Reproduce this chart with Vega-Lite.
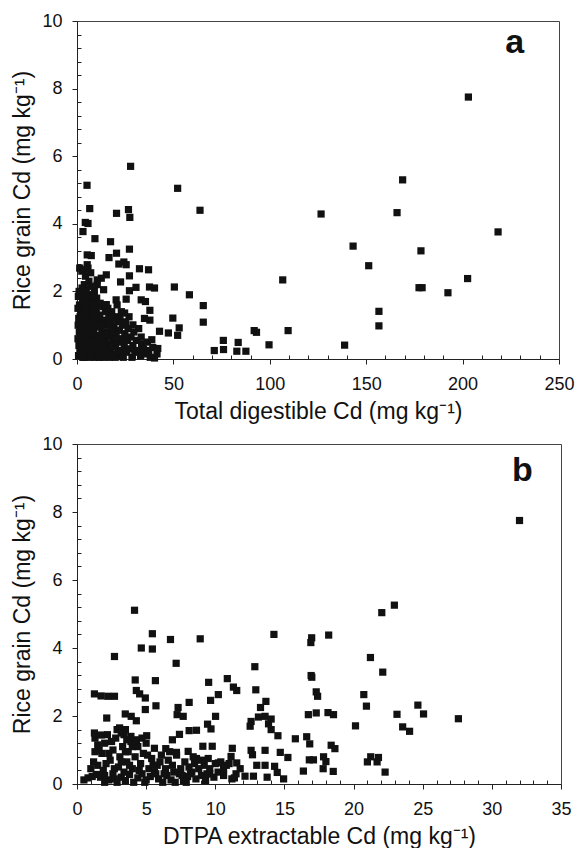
{
"$schema": "https://vega.github.io/schema/vega-lite/v6.json",
"background": "white",
"padding": {"top": 11, "left": 11, "right": 5, "bottom": 5},
"spacing": 10,
"config": {
  "font": "Liberation Sans",
  "view": {"stroke": "#444", "strokeWidth": 1},
  "axis": {"grid": false, "domainColor": "#222", "tickColor": "#222", "labelColor": "#111", "titleColor": "#111", "labelFont": "Liberation Sans", "titleFont": "Liberation Sans", "labelFontSize": 18, "titleFontSize": 23, "titleFontWeight": "normal", "labelFlush": false, "labelOverlap": false, "labelBound": false}
},
"datasets": {
  "a": [
    {"x":0.8,"y":0.1},{"x":1,"y":0.4},{"x":1.2,"y":0.8},{"x":0.9,"y":1.2},{"x":1.3,"y":1.6},{"x":1.1,"y":2.0},{"x":1.5,"y":0.25},{"x":1.8,"y":0.6},{"x":2,"y":1.0},{"x":2.2,"y":1.4},{"x":2.1,"y":1.9},{"x":2.5,"y":2.6},
    {"x":3,"y":0.05},{"x":3.2,"y":0.35},{"x":3.4,"y":0.7},{"x":3.1,"y":1.1},{"x":3.6,"y":1.5},{"x":3.3,"y":1.8},{"x":3.8,"y":2.2},{"x":4,"y":0.2},{"x":4.2,"y":0.5},{"x":4.5,"y":0.9},{"x":4.3,"y":1.3},{"x":4.6,"y":1.7},{"x":4.8,"y":2.05},{"x":4.4,"y":2.45},
    {"x":5.2,"y":0.1},{"x":5.5,"y":0.45},{"x":5.8,"y":0.8},{"x":5.3,"y":1.2},{"x":5.6,"y":1.55},{"x":6,"y":1.9},{"x":6.2,"y":2.3},{"x":6.5,"y":0.05},{"x":6.8,"y":0.3},{"x":6.6,"y":0.65},{"x":7,"y":1.0},{"x":6.9,"y":1.4},{"x":7.2,"y":1.75},{"x":7.5,"y":2.15},{"x":7.1,"y":2.55},
    {"x":8,"y":0.15},{"x":8.2,"y":0.5},{"x":8.5,"y":0.85},{"x":8.3,"y":1.25},{"x":8.8,"y":1.6},{"x":9,"y":2.0},{"x":9.3,"y":0.05},{"x":9.5,"y":0.35},{"x":9.8,"y":0.7},{"x":9.6,"y":1.1},{"x":10,"y":1.45},{"x":10.2,"y":1.8},{"x":10.5,"y":2.2},
    {"x":11,"y":0.2},{"x":11.3,"y":0.55},{"x":11.5,"y":0.95},{"x":11.8,"y":1.3},{"x":12,"y":1.65},{"x":12.5,"y":0.1},{"x":12.8,"y":0.4},{"x":13,"y":0.8},{"x":13.2,"y":1.15},{"x":13.5,"y":1.55},{"x":13.8,"y":2.05},{"x":14,"y":0.25},{"x":14.3,"y":0.6},{"x":14.5,"y":1.0},{"x":14.8,"y":1.4},
    {"x":15.5,"y":0.1},{"x":15.8,"y":0.45},{"x":16.2,"y":0.8},{"x":16.5,"y":1.2},{"x":17,"y":0.3},{"x":17.3,"y":0.65},{"x":17.8,"y":1.05},{"x":18,"y":1.4},{"x":18.5,"y":0.15},{"x":18.8,"y":0.5},{"x":19.2,"y":0.9},{"x":19.5,"y":1.25},{"x":20,"y":0.35},{"x":20.3,"y":0.7},{"x":20.8,"y":1.6},{"x":21,"y":0.1},
    {"x":21.5,"y":0.5},{"x":22,"y":0.85},{"x":22.3,"y":1.2},{"x":22.8,"y":0.25},{"x":23.2,"y":0.6},{"x":23.5,"y":1.0},{"x":24,"y":0.05},{"x":24.5,"y":0.4},{"x":24.8,"y":0.75},{"x":25.2,"y":1.1},{"x":25.8,"y":0.2},{"x":26.2,"y":0.55},{"x":26.5,"y":0.9},{"x":27,"y":1.25},{"x":27.5,"y":0.3},{"x":28,"y":0.65},{"x":28.5,"y":0.05},{"x":29,"y":0.4},{"x":29.5,"y":0.8},{"x":30,"y":0.2},
    {"x":30.8,"y":0.55},{"x":31.5,"y":0.25},{"x":32,"y":0.9},{"x":33,"y":0.1},{"x":33.5,"y":0.45},{"x":34.5,"y":0.3},{"x":35,"y":1.2},{"x":35.8,"y":0.15},{"x":36.5,"y":0.5},{"x":37.2,"y":0.25},{"x":38,"y":0.05},{"x":41.5,"y":0.15},
    {"x":0.5,"y":0.6},{"x":0.6,"y":1.0},{"x":0.5,"y":1.5},{"x":0.7,"y":1.85},{"x":1.6,"y":1.25},{"x":1.9,"y":0.15},{"x":2.6,"y":0.5},{"x":2.7,"y":0.9},{"x":2.8,"y":1.3},{"x":2.9,"y":1.65},{"x":2.6,"y":2.1},{"x":3.7,"y":0.05},{"x":3.9,"y":0.95},{"x":4.1,"y":1.5},{"x":5.0,"y":0.65},{"x":5.1,"y":1.0},{"x":5.0,"y":1.4},{"x":5.4,"y":1.85},{"x":6.2,"y":0.25},{"x":6.1,"y":1.1},{"x":6.3,"y":1.65},{"x":7.4,"y":0.15},{"x":7.6,"y":0.55},{"x":7.8,"y":1.2},{"x":7.7,"y":1.6},{"x":8.6,"y":0.3},{"x":8.9,"y":1.05},{"x":8.6,"y":1.9},{"x":9.1,"y":1.35},{"x":10.3,"y":0.5},{"x":10.5,"y":0.95},{"x":10.7,"y":1.25},{"x":11.6,"y":0.05},{"x":12.2,"y":0.7},{"x":12.4,"y":1.0},{"x":13.6,"y":0.05},{"x":14.9,"y":0.75},{"x":16.0,"y":1.5},{"x":16.8,"y":0.05},{"x":18.2,"y":0.8},{"x":19.8,"y":0.05},{"x":21.8,"y":0.2},{"x":23.0,"y":1.4},
    {"x":27.8,"y":5.70},{"x":5.2,"y":5.14},{"x":52.2,"y":5.05},{"x":63.8,"y":4.40},{"x":6.6,"y":4.45},{"x":20.5,"y":4.31},{"x":26.7,"y":4.42},{"x":27.4,"y":4.19},{"x":5.7,"y":4.01},{"x":4.3,"y":4.04},{"x":3.1,"y":3.77},{"x":9.3,"y":3.56},{"x":17.4,"y":3.47},{"x":5.3,"y":3.08},{"x":7.4,"y":3.06},{"x":20.5,"y":3.13},{"x":16.6,"y":3.0},{"x":27.2,"y":3.25},{"x":24.3,"y":2.87},{"x":25.5,"y":2.79},{"x":32.4,"y":2.67},{"x":37.1,"y":2.64},{"x":1.4,"y":2.69},{"x":3.6,"y":2.64},{"x":5.3,"y":2.79},{"x":5.7,"y":2.69},{"x":15.2,"y":2.49},{"x":27.2,"y":2.46},{"x":21.7,"y":2.81},{"x":12.6,"y":2.39},{"x":10.5,"y":2.34},{"x":22.6,"y":2.28},
    {"x":106.7,"y":2.34},{"x":50.5,"y":2.13},{"x":37.6,"y":2.13},{"x":40.2,"y":2.10},{"x":58.3,"y":1.90},{"x":65.5,"y":1.58},{"x":65.5,"y":1.09},{"x":49.7,"y":1.21},{"x":53.0,"y":0.92},{"x":52.2,"y":0.70},{"x":47.4,"y":0.77},{"x":42.8,"y":0.82},{"x":75.9,"y":0.55},{"x":71.2,"y":0.25},{"x":76.0,"y":0.28},{"x":83.6,"y":0.49},{"x":82.9,"y":0.23},{"x":87.6,"y":0.23},{"x":91.9,"y":0.84},{"x":93.1,"y":0.79},{"x":99.6,"y":0.42},{"x":109.5,"y":0.84},
    {"x":33.3,"y":1.75},{"x":35.5,"y":1.70},{"x":37.8,"y":1.44},{"x":37.8,"y":1.15},{"x":33.3,"y":0.65},{"x":38.8,"y":0.57},{"x":39.3,"y":0.34},{"x":41.9,"y":0.31},{"x":40.2,"y":0.03},{"x":29.0,"y":1.01},{"x":25.5,"y":1.77},{"x":27.2,"y":2.02},{"x":30.6,"y":2.12},{"x":20.3,"y":1.75},{"x":15.2,"y":1.61},{"x":10.9,"y":1.61},{"x":24.7,"y":1.36},{"x":21.2,"y":1.11},{"x":17.6,"y":0.92},
    {"x":168.9,"y":5.30},{"x":126.6,"y":4.29},{"x":166.0,"y":4.33},{"x":218.4,"y":3.76},{"x":143.2,"y":3.34},{"x":178.4,"y":3.20},{"x":151.3,"y":2.76},{"x":202.6,"y":2.38},{"x":177.4,"y":2.11},{"x":179.0,"y":2.11},{"x":192.4,"y":1.96},{"x":156.6,"y":1.41},{"x":156.6,"y":0.98},{"x":138.8,"y":0.41},{"x":203,"y":7.75}
  ],
  "b": [
    {"x":0.5,"y":0.12},{"x":0.8,"y":0.18},{"x":1.1,"y":0.22},{"x":1.4,"y":0.28},{"x":1.7,"y":0.2},{"x":2.0,"y":0.25},{"x":2.3,"y":0.12},{"x":2.6,"y":0.3},{"x":2.9,"y":0.05},{"x":3.2,"y":0.2},{"x":3.5,"y":0.1},{"x":3.8,"y":0.28},{"x":4.1,"y":0.05},{"x":4.4,"y":0.18},{"x":4.7,"y":0.3},{"x":5.0,"y":0.12},{"x":5.3,"y":0.22},{"x":5.6,"y":0.35},{"x":5.9,"y":0.15},{"x":6.2,"y":0.05},{"x":6.5,"y":0.25},{"x":6.8,"y":0.12},{"x":7.1,"y":0.05},{"x":7.4,"y":0.3},{"x":7.7,"y":0.1},{"x":8.0,"y":0.22},{"x":8.3,"y":0.35},{"x":8.6,"y":0.15},{"x":9.0,"y":0.25},{"x":9.3,"y":0.1},{"x":9.6,"y":0.3},{"x":9.9,"y":0.2},{"x":10.2,"y":0.35},{"x":10.6,"y":0.25},{"x":11.2,"y":0.15},{"x":11.5,"y":0.3},
    {"x":1.5,"y":0.55},{"x":1.8,"y":0.9},{"x":2.0,"y":1.2},{"x":1.9,"y":0.4},{"x":2.4,"y":0.7},{"x":2.6,"y":1.0},{"x":2.8,"y":1.35},{"x":3.0,"y":0.5},{"x":3.1,"y":0.8},{"x":3.3,"y":1.1},{"x":3.4,"y":1.45},{"x":3.6,"y":0.65},{"x":3.7,"y":0.95},{"x":3.9,"y":1.25},{"x":3.5,"y":1.6},{"x":4.0,"y":0.45},{"x":4.2,"y":0.8},{"x":4.4,"y":1.1},{"x":4.6,"y":0.6},{"x":4.8,"y":0.9},{"x":5.0,"y":1.2},{"x":5.2,"y":0.45},{"x":5.4,"y":0.75},{"x":5.6,"y":1.05},{"x":5.8,"y":0.55},{"x":6.1,"y":0.85},{"x":6.4,"y":0.45},{"x":6.6,"y":0.7},{"x":6.9,"y":0.55},{"x":7.2,"y":0.85},{"x":7.5,"y":0.45},{"x":7.8,"y":0.65},{"x":8.1,"y":0.5},{"x":8.4,"y":0.8},{"x":8.8,"y":0.45},{"x":9.2,"y":0.55},{"x":9.6,"y":0.45},{"x":10.0,"y":0.6},{"x":10.4,"y":0.65},{"x":10.8,"y":0.55},{"x":11.0,"y":0.6},{"x":2.2,"y":1.45},{"x":1.3,"y":1.35},{"x":2.9,"y":1.6},{"x":3.9,"y":1.4},{"x":4.3,"y":1.3},{"x":1.6,"y":1.0},{"x":1.2,"y":0.65},{"x":2.7,"y":0.45},
    {"x":1.0,"y":0.45},{"x":1.3,"y":0.95},{"x":1.5,"y":1.15},{"x":2.1,"y":0.6},{"x":2.3,"y":0.9},{"x":2.5,"y":1.25},{"x":2.7,"y":0.15},{"x":3.2,"y":0.65},{"x":3.4,"y":0.35},{"x":3.5,"y":0.95},{"x":3.6,"y":1.3},{"x":3.8,"y":0.55},{"x":4.0,"y":1.1},{"x":4.5,"y":0.4},{"x":4.7,"y":1.35},{"x":5.1,"y":0.85},{"x":5.5,"y":0.55},{"x":5.7,"y":0.3},{"x":6.0,"y":0.65},{"x":6.3,"y":0.3},{"x":6.7,"y":0.95},{"x":7.0,"y":0.35},{"x":7.6,"y":0.25},{"x":8.2,"y":0.3},{"x":8.5,"y":0.6},{"x":9.0,"y":0.7},{"x":9.4,"y":0.3},{"x":10.6,"y":0.45},{"x":11.8,"y":0.45},{"x":2.0,"y":0.05},{"x":4.9,"y":0.05},{"x":7.9,"y":0.05},
    {"x":4.16,"y":5.11},{"x":5.45,"y":4.42},{"x":6.76,"y":4.25},{"x":8.91,"y":4.27},{"x":14.24,"y":4.40},{"x":4.65,"y":4.0},{"x":5.45,"y":3.97},{"x":2.71,"y":3.75},{"x":7.17,"y":3.55},{"x":12.86,"y":3.45},{"x":4.21,"y":3.06},{"x":5.67,"y":3.04},{"x":10.87,"y":3.10},{"x":9.52,"y":2.99},{"x":11.31,"y":2.85},{"x":11.55,"y":2.75},{"x":12.93,"y":2.77},{"x":10.22,"y":2.63},{"x":9.66,"y":2.46},{"x":13.66,"y":2.43},{"x":4.29,"y":2.75},{"x":4.53,"y":2.65},{"x":4.94,"y":2.53},{"x":1.26,"y":2.65},{"x":1.74,"y":2.59},{"x":2.23,"y":2.58},{"x":2.71,"y":2.58},{"x":5.71,"y":2.30},{"x":8.11,"y":2.40},{"x":7.31,"y":2.25},{"x":7.24,"y":2.04},{"x":7.68,"y":1.99},{"x":4.94,"y":2.19},{"x":13.27,"y":2.25},{"x":2.15,"y":1.94},{"x":3.49,"y":2.06},{"x":3.92,"y":1.99},{"x":4.29,"y":1.86},{"x":10.02,"y":1.99},{"x":12.59,"y":1.84},{"x":13.12,"y":1.97},{"x":13.6,"y":1.99},{"x":14.04,"y":1.91},{"x":13.85,"y":1.77},{"x":14.04,"y":1.60},{"x":12.52,"y":1.70},{"x":9.44,"y":1.76},{"x":9.69,"y":1.62},{"x":8.11,"y":1.57},{"x":8.64,"y":1.58},{"x":1.26,"y":1.5},{"x":1.74,"y":1.44},{"x":3.08,"y":1.65},{"x":3.20,"y":1.5},{"x":5.04,"y":1.42},{"x":7.41,"y":1.46},{"x":6.90,"y":1.30},{"x":14.53,"y":1.42},{"x":15.79,"y":1.33},{"x":9.10,"y":1.11},{"x":9.78,"y":1.11},{"x":11.23,"y":1.05},{"x":12.59,"y":0.99},{"x":13.6,"y":0.99},{"x":14.7,"y":0.93},{"x":15.25,"y":0.78},{"x":12.69,"y":0.86},{"x":6.42,"y":1.04},{"x":7.19,"y":0.93},{"x":8.04,"y":0.96},{"x":8.64,"y":0.75},{"x":9.49,"y":0.75},{"x":11.14,"y":0.81},{"x":11.55,"y":0.62},{"x":10.22,"y":0.62},{"x":13.0,"y":0.55},{"x":13.6,"y":0.55},{"x":14.29,"y":0.52},{"x":14.48,"y":0.34},{"x":14.94,"y":0.15},{"x":13.75,"y":0.20},{"x":12.15,"y":0.23},{"x":12.76,"y":0.23},{"x":11.38,"y":0.18},
    {"x":22.95,"y":5.26},{"x":22.04,"y":5.04},{"x":18.2,"y":4.38},{"x":16.97,"y":4.30},{"x":16.91,"y":4.16},{"x":21.22,"y":3.72},{"x":22.11,"y":3.29},{"x":16.93,"y":3.19},{"x":16.98,"y":3.14},{"x":17.3,"y":2.71},{"x":17.4,"y":2.58},{"x":20.74,"y":2.63},{"x":20.93,"y":2.29},{"x":24.65,"y":2.32},{"x":25.06,"y":2.06},{"x":23.14,"y":2.05},{"x":27.58,"y":1.92},{"x":16.73,"y":2.04},{"x":17.3,"y":2.09},{"x":18.15,"y":2.10},{"x":18.55,"y":2.04},{"x":20.14,"y":1.71},{"x":23.55,"y":1.68},{"x":24.05,"y":1.55},{"x":16.61,"y":1.39},{"x":16.83,"y":1.18},{"x":18.38,"y":1.14},{"x":18.65,"y":1.04},{"x":16.8,"y":0.71},{"x":17.1,"y":0.71},{"x":17.83,"y":0.80},{"x":18.0,"y":0.66},{"x":17.8,"y":0.45},{"x":16.37,"y":0.38},{"x":18.53,"y":0.37},{"x":21.24,"y":0.80},{"x":21.0,"y":0.65},{"x":21.7,"y":0.65},{"x":21.8,"y":0.78},{"x":22.28,"y":0.35},{"x":32,"y":7.75}
  ]
},
"vconcat": [
  {
    "width": 482, "height": 338,
    "layer": [
      {
        "data": {"name": "a"},
        "mark": {"type": "point", "shape": "square", "filled": true, "size": 52, "color": "#111", "opacity": 1},
        "encoding": {
          "x": {"field": "x", "type": "quantitative", "scale": {"domain": [0, 250], "nice": false, "zero": false},
                "axis": {"title": "Total digestible Cd (mg kg⁻¹)", "values": [0, 50, 100, 150, 200, 250], "tickSize": 5, "labelPadding": 11, "titlePadding": 7}},
          "y": {"field": "y", "type": "quantitative", "scale": {"domain": [0, 10], "nice": false, "zero": false},
                "axis": {"title": "Rice grain Cd (mg kg⁻¹)", "values": [0, 2, 4, 6, 8, 10], "tickSize": 5, "labelPadding": 10, "titlePadding": 7}}
        }
      },
      {
        "data": {"values": [{"label": "a"}]},
        "mark": {"type": "text", "fontSize": 34, "fontWeight": "bold", "font": "Liberation Sans", "color": "#111"},
        "encoding": {
          "text": {"field": "label"},
          "x": {"datum": 227, "type": "quantitative", "axis": {"orient": "bottom", "values": [10,20,30,40,60,70,80,90,110,120,130,140,160,170,180,190,210,220,230,240], "tickSize": -4, "labels": false, "domain": false, "title": null}},
          "y": {"datum": 9.35, "type": "quantitative", "axis": {"orient": "left", "values": [0.4,0.8,1.2,1.6,2.4,2.8,3.2,3.6,4.4,4.8,5.2,5.6,6.4,6.8,7.2,7.6,8.4,8.8,9.2,9.6], "tickSize": -4, "labels": false, "domain": false, "title": null}}
        }
      }
    ],
    "resolve": {"axis": {"x": "independent", "y": "independent"}}
  },
  {
    "width": 484, "height": 340,
    "layer": [
      {
        "data": {"name": "b"},
        "mark": {"type": "point", "shape": "square", "filled": true, "size": 52, "color": "#111", "opacity": 1},
        "encoding": {
          "x": {"field": "x", "type": "quantitative", "scale": {"domain": [0, 35], "nice": false, "zero": false},
                "axis": {"title": "DTPA extractable Cd (mg kg⁻¹)", "values": [0, 5, 10, 15, 20, 25, 30, 35], "tickSize": 5, "labelPadding": 11, "titlePadding": 7}},
          "y": {"field": "y", "type": "quantitative", "scale": {"domain": [0, 10], "nice": false, "zero": false},
                "axis": {"title": "Rice grain Cd (mg kg⁻¹)", "values": [0, 2, 4, 6, 8, 10], "tickSize": 5, "labelPadding": 10, "titlePadding": 7}}
        }
      },
      {
        "data": {"values": [{"label": "b"}]},
        "mark": {"type": "text", "fontSize": 34, "fontWeight": "bold", "font": "Liberation Sans", "color": "#111"},
        "encoding": {
          "text": {"field": "label"},
          "x": {"datum": 32.2, "type": "quantitative", "axis": {"orient": "bottom", "values": [1,2,3,4,6,7,8,9,11,12,13,14,16,17,18,19,21,22,23,24,26,27,28,29,31,32,33,34], "tickSize": -4, "labels": false, "domain": false, "title": null}},
          "y": {"datum": 9.2, "type": "quantitative", "axis": {"orient": "left", "values": [0.4,0.8,1.2,1.6,2.4,2.8,3.2,3.6,4.4,4.8,5.2,5.6,6.4,6.8,7.2,7.6,8.4,8.8,9.2,9.6], "tickSize": -4, "labels": false, "domain": false, "title": null}}
        }
      }
    ],
    "resolve": {"axis": {"x": "independent", "y": "independent"}}
  }
]
}
